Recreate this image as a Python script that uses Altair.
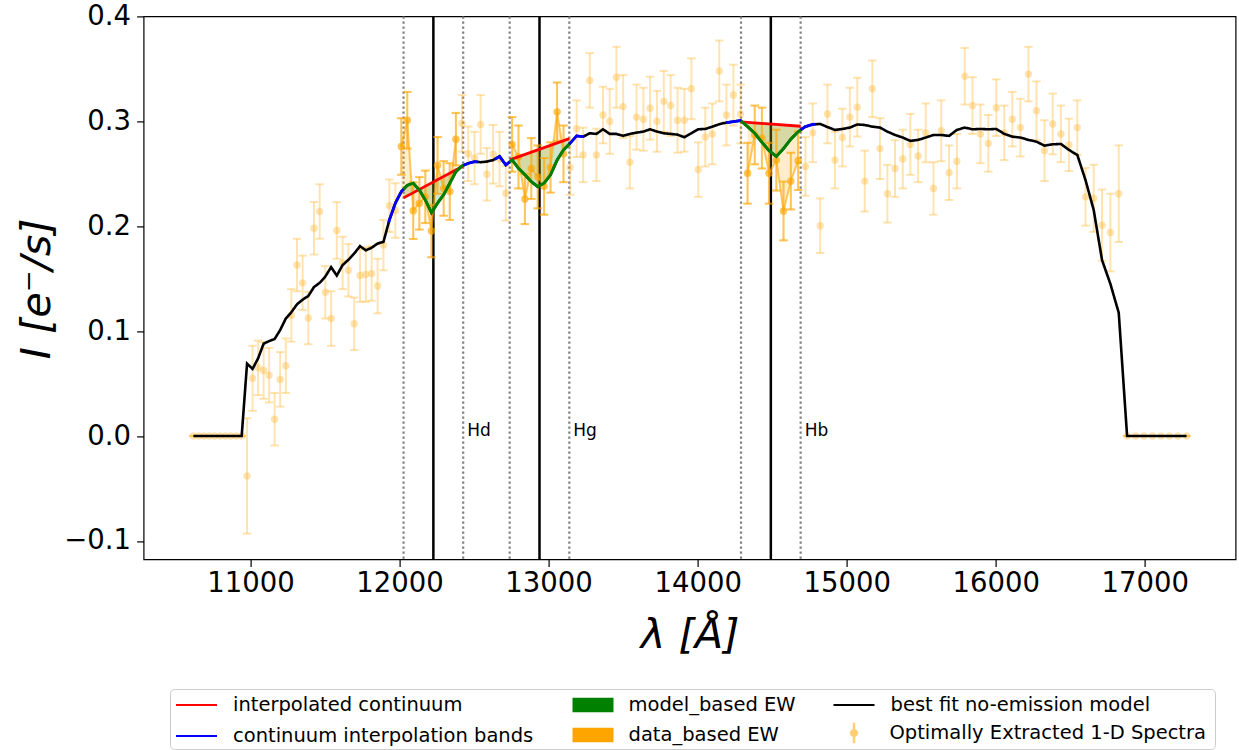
import altair as alt
import numpy as np
import pandas as pd

# ---------------- values ----------------
LAM = [10617, 10653, 10688, 10724, 10760, 10796, 10832, 10868, 10904, 10941,
       10977, 11014, 11051, 11088, 11125, 11162, 11199, 11237, 11274, 11312,
       11350, 11388, 11426, 11464, 11502, 11541, 11579, 11618, 11657, 11696,
       11735, 11774, 11813, 11853, 11892, 11932, 11972, 12012, 12052, 12092,
       12133, 12173, 12214, 12255, 12296, 12337, 12378, 12419, 12461, 12503,
       12544, 12586, 12628, 12671, 12713, 12755, 12798, 12841, 12884, 12927,
       12970, 13013, 13057, 13100, 13144, 13188, 13232, 13276, 13321, 13365,
       13410, 13455, 13500, 13545, 13590, 13636, 13681, 13727, 13773, 13819,
       13865, 13911, 13958, 14004, 14051, 14098, 14145, 14193, 14240, 14288,
       14335, 14383, 14431, 14479, 14528, 14576, 14625, 14674, 14723, 14772,
       14822, 14871, 14921, 14971, 15021, 15071, 15121, 15172, 15223, 15273,
       15324, 15376, 15427, 15479, 15530, 15582, 15634, 15687, 15739, 15792,
       15844, 15897, 15950, 16004, 16057, 16111, 16165, 16219, 16273, 16327,
       16382, 16437, 16491, 16547, 16602, 16657, 16713, 16769, 16825, 16881,
       16938, 16994, 17051, 17108, 17165, 17222, 17280]

FLUX = [0, 0, 0, 0, 0, 0, 0, 0, 0, 0,
        -0.038, 0.055, 0.065, 0.0625, 0.058, 0.016, 0.054, 0.067, 0.115, 0.163,
        0.146, 0.1125, 0.198, 0.214, 0.137, 0.112, 0.196, 0.165, 0.158, 0.107,
        0.153, 0.154, 0.155, 0.143, 0.182, 0.2195, 0.215, 0.276, 0.301, 0.2148,
        0.2218, 0.228, 0.1954, 0.258, 0.236, 0.233, 0.283, 0.298, 0.269, 0.265,
        0.297, 0.2495, 0.2686, 0.264, 0.2314, 0.278, 0.266, 0.226, 0.255, 0.247,
        0.238, 0.256, 0.309, 0.269, 0.256, 0.293, 0.268, 0.339, 0.268, 0.306,
        0.300, 0.342, 0.314, 0.261, 0.304, 0.302, 0.3125, 0.300, 0.319, 0.315,
        0.301, 0.301, 0.331, 0.254, 0.285, 0.288, 0.348, 0.306, 0.325, 0.307,
        0.2505, 0.287, 0.284, 0.2505, 0.263, 0.2145, 0.243, 0.2625, 0.257, 0.289,
        0.2005, 0.307, 0.263, 0.2845, 0.304, 0.3135, 0.243, 0.331, 0.274, 0.231,
        0.255, 0.264, 0.278, 0.267, 0.289, 0.236, 0.291, 0.251, 0.262, 0.343,
        0.315, 0.288, 0.279, 0.313, 0.289, 0.302, 0.294, 0.345, 0.310, 0.272,
        0.2975, 0.288, 0.2775, 0.294, 0.228, 0.2266, 0.201, 0.194, 0.231, 0,
        0, 0, 0, 0, 0, 0, 0]

ERR = [0, 0, 0, 0, 0, 0, 0, 0, 0, 0,
       0.055, 0.031, 0.026, 0.027, 0.026, 0.025, 0.026, 0.026, 0.025, 0.025,
       0.026, 0.025, 0.025, 0.026, 0.025, 0.026, 0.027, 0.025, 0.025, 0.025,
       0.025, 0.026, 0.026, 0.026, 0.024, 0.025, 0.026, 0.027, 0.027, 0.027,
       0.025, 0.025, 0.025, 0.027, 0.026, 0.027, 0.025, 0.027, 0.026, 0.025,
       0.028, 0.025, 0.028, 0.026, 0.026, 0.026, 0.030, 0.024, 0.029, 0.030,
       0.027, 0.024, 0.028, 0.027, 0.026, 0.027, 0.026, 0.026, 0.025, 0.027,
       0.031, 0.029, 0.030, 0.025, 0.031, 0.030, 0.030, 0.029, 0.029, 0.029,
       0.031, 0.030, 0.029, 0.026, 0.028, 0.029, 0.029, 0.029, 0.029, 0.028,
       0.029, 0.028, 0.029, 0.029, 0.029, 0.028, 0.027, 0.028, 0.028, 0.028,
       0.026, 0.028, 0.027, 0.0275, 0.028, 0.028, 0.029, 0.027, 0.029, 0.0275,
       0.027, 0.028, 0.029, 0.025, 0.028, 0.025, 0.029, 0.026, 0.026, 0.027,
       0.027, 0.028, 0.027, 0.027, 0.026, 0.026, 0.0275, 0.026, 0.028, 0.029,
       0.029, 0.027, 0.025, 0.026, 0.0275, 0.032, 0.034, 0.037, 0.046, 0,
       0, 0, 0, 0, 0, 0, 0]

MODEL = [0, 0, 0, 0, 0, 0, 0, 0, 0, 0,
         0.069, 0.064, 0.074, 0.088, 0.0905, 0.0925, 0.101, 0.112, 0.118, 0.1255,
         0.130, 0.1335, 0.142, 0.146, 0.152, 0.161, 0.153, 0.163, 0.168, 0.174,
         0.181, 0.177, 0.1795, 0.1835, 0.185, 0.206, 0.222, 0.233, 0.239, 0.241,
         0.2345, 0.225, 0.213, 0.222, 0.230, 0.241, 0.252, 0.2574, 0.260, 0.2616,
         0.261, 0.2616, 0.263, 0.2665, 0.2584, 0.2632, 0.2552, 0.249, 0.2425, 0.2377,
         0.241, 0.249, 0.263, 0.2727, 0.279, 0.2861, 0.2854, 0.2886, 0.288, 0.2924,
         0.288, 0.288, 0.2861, 0.288, 0.2892, 0.2902, 0.2924, 0.2902, 0.2886, 0.288,
         0.2873, 0.2848, 0.2886, 0.2924, 0.2927, 0.2949, 0.2972, 0.2988, 0.2997, 0.3007,
         0.2949, 0.2886, 0.280, 0.272, 0.2665, 0.274, 0.283, 0.290, 0.295, 0.297,
         0.2975, 0.2945, 0.2918, 0.2927, 0.294, 0.297, 0.2965, 0.2949, 0.294, 0.2902,
         0.287, 0.2845, 0.2813, 0.2823, 0.2845, 0.287, 0.287, 0.2861, 0.2918, 0.294,
         0.2924, 0.2927, 0.2924, 0.2927, 0.288, 0.2854, 0.2845, 0.2823, 0.2806, 0.2768,
         0.2781, 0.2784, 0.2727, 0.268, 0.244, 0.2155, 0.1677, 0.145, 0.1175, 0,
         0, 0, 0, 0, 0, 0, 0]

LINE_NAMES = ["Hd", "Hg", "Hb"]
LINE_CENTERS = [12227, 12939, 14491]
HALF_WINDOW = 200
BAND_WIDTH = 100
CONT_LEFT = [0.2270, 0.2633, 0.2995]
CONT_RIGHT = [0.2575, 0.2835, 0.2953]
DATA_WIN_FIRST = [12012, 12755, 14335]
DATA_WIN_LAST = [12378, 13100, 14674]

LEG_LINES = ["interpolated continuum", "continuum interpolation bands"]
LEG_LINE_COLORS = ["#ff0000", "#0000ff"]
LEG_FILLS = ["model_based EW", "data_based EW"]
LEG_FILL_COLORS = ["#008000", "#ffa500"]
LEG_MODEL = "best fit no-emission model"
LEG_SPEC = "Optimally Extracted 1-D Spectra"

X_DOMAIN = [10283, 17609]
Y_DOMAIN = [-0.1176, 0.4]
X_TICKS = [11000, 12000, 13000, 14000, 15000, 16000, 17000]
Y_TICKS = [-0.1, 0.0, 0.1, 0.2, 0.3, 0.4]

ORANGE = "#ffa500"
GREEN = "#008000"

# ---------------- tables ----------------
lam = np.array(LAM, dtype=float)
flux = np.array(FLUX, dtype=float)
err = np.array(ERR, dtype=float)
model = np.array(MODEL, dtype=float)

spec = pd.DataFrame({"lam": lam, "flux": flux, "lo": flux - err, "hi": flux + err,
                     "series": LEG_SPEC})
caps = pd.concat([pd.DataFrame({"lam": lam, "yc": flux - err}),
                  pd.DataFrame({"lam": lam, "yc": flux + err})])
mdl = pd.DataFrame({"lam": lam, "model": model, "series": LEG_MODEL})
empty = spec.iloc[:0]


def piece(a, b):
    """part of the drawn model polyline between wavelengths a and b"""
    m = (lam > a) & (lam < b)
    xs = np.concatenate([[a], lam[m], [b]])
    ys = np.concatenate([[np.interp(a, lam, model)], model[m], [np.interp(b, lam, model)]])
    return xs, ys


def cont(k, x):
    a = LINE_CENTERS[k] - HALF_WINDOW
    b = LINE_CENTERS[k] + HALF_WINDOW
    return CONT_LEFT[k] + (CONT_RIGHT[k] - CONT_LEFT[k]) * (np.asarray(x, dtype=float) - a) / (b - a)


blue_l, green_l, red_l, win_l = [], [], [], []
for k, c in enumerate(LINE_CENTERS):
    for j, (a, b) in enumerate([(c - HALF_WINDOW - BAND_WIDTH, c - HALF_WINDOW),
                                (c + HALF_WINDOW, c + HALF_WINDOW + BAND_WIDTH)]):
        xs, ys = piece(a, b)
        blue_l.append(pd.DataFrame({"lam": xs, "model": ys, "seg": f"b{k}{j}",
                                    "series": LEG_LINES[1]}))
    xs, ys = piece(c - HALF_WINDOW, c + HALF_WINDOW)
    green_l.append(pd.DataFrame({"lam": xs, "model": ys, "cont": cont(k, xs), "seg": f"g{k}"}))
    red_l.append(pd.DataFrame({"lam": [c - HALF_WINDOW, c + HALF_WINDOW],
                               "cont": [CONT_LEFT[k], CONT_RIGHT[k]], "seg": f"r{k}",
                               "series": LEG_LINES[0]}))
    m = (lam >= DATA_WIN_FIRST[k]) & (lam <= DATA_WIN_LAST[k])
    win_l.append(pd.DataFrame({"lam": lam[m], "flux": flux[m], "lo": flux[m] - err[m],
                               "hi": flux[m] + err[m], "cont": cont(k, lam[m]), "seg": f"d{k}"}))

blue_df = pd.concat(blue_l)
green_df = pd.concat(green_l)
red_df = pd.concat(red_l)
win_df = pd.concat(win_l)
win_caps = pd.concat([pd.DataFrame({"lam": win_df["lam"], "yc": win_df["lo"]}),
                      pd.DataFrame({"lam": win_df["lam"], "yc": win_df["hi"]})])

edges = pd.DataFrame({"lam": [c + s * HALF_WINDOW for c in LINE_CENTERS for s in (-1, 1)]})
centers = pd.DataFrame({"lam": LINE_CENTERS})
labels = pd.DataFrame({"lam": [c + HALF_WINDOW for c in LINE_CENTERS],
                       "y": [0.0] * len(LINE_CENTERS), "name": LINE_NAMES})

# ---------------- encodings ----------------
XS = alt.Scale(domain=X_DOMAIN, nice=False, zero=False)
YS = alt.Scale(domain=Y_DOMAIN, nice=False, zero=False)
XT = "λ [Å]"
YT = "I [e⁻/s]"
XAX = alt.Axis(values=X_TICKS, format="d", labelPadding=3, titleY=88,
               titleBaseline="alphabetic")
YAX = alt.Axis(values=Y_TICKS, format=".1f", labelPadding=6, titleAngle=270, titleX=-94,
               titleY=272, titleBaseline="alphabetic", titleAlign="center")


def X(f="lam"):
    return alt.X(f"{f}:Q", scale=XS, axis=XAX, title=XT)


def Y(f):
    return alt.Y(f"{f}:Q", scale=YS, axis=YAX, title=YT)


RECT = "M-1,-0.35L1,-0.35L1,0.35L-1,0.35Z"
EBAR = ("M-0.06,-0.5L0.06,-0.5L0.06,-0.2L-0.06,-0.2Z"
        "M-0.06,0.2L0.06,0.2L0.06,0.5L-0.06,0.5Z"
        "M-0.2,0A0.2,0.2,0,1,1,0.2,0A0.2,0.2,0,1,1,-0.2,0Z")


def leg(x, y, **kw):
    base = dict(title=None, orient="none", legendX=x, legendY=y, labelFont="DejaVu Sans",
                labelFontSize=19.5, labelColor="black", labelLimit=1100, labelOffset=15,
                padding=6, rowPadding=-2.5, zindex=1)
    base.update(kw)
    return alt.Legend(**base)


# frame of the legend block (a blank gradient legend that only draws the rounded box)
L_BOX = alt.Legend(title=None, orient="none", legendX=26.4, legendY=672.6,
                   direction="horizontal", gradientLength=1033, gradientThickness=48,
                   gradientOpacity=0, gradientStrokeWidth=0, values=[], labelOpacity=0,
                   labelFontSize=1, labelOffset=0, padding=6, fillColor="white",
                   strokeColor="#cccccc", cornerRadius=4, zindex=0)
L_LINES = leg(25.4, 661.1, symbolType="stroke", symbolSize=1681, symbolStrokeWidth=2)
L_FILLS = leg(422.9, 662.1, symbolType=RECT, symbolSize=1681, symbolStrokeWidth=0,
              symbolOpacity=1)
L_MODEL = leg(682.9, 661.1, symbolType="stroke", symbolSize=1681, symbolStrokeWidth=2)
L_SPEC = leg(683.9, 690.1, symbolSize=1681, symbolStrokeWidth=0, symbolOpacity=0.55)

S_LINES = alt.Stroke("series:N", scale=alt.Scale(domain=LEG_LINES, range=LEG_LINE_COLORS),
                     legend=L_LINES)

# ---------------- layers ----------------
dotted = alt.Chart(edges).mark_rule(color="#808080", strokeWidth=2.2,
                                    strokeDash=[2.4, 2.6]).encode(x=X())
solid = alt.Chart(centers).mark_rule(color="black", strokeWidth=2.5).encode(x=X())

gfill = alt.Chart(green_df).mark_area(opacity=0.2, color=GREEN).encode(
    x=X(), y=Y("model"), y2=alt.Y2("cont:Q"), detail="seg:N")
ofill = alt.Chart(win_df).mark_area(opacity=0.2, color=ORANGE).encode(
    x=X(), y=Y("flux"), y2=alt.Y2("cont:Q"), detail="seg:N")

ebar = alt.Chart(spec).mark_rule(color=ORANGE, strokeWidth=2, opacity=0.3).encode(
    x=X(), y=Y("lo"), y2=alt.Y2("hi:Q"))
ecap = alt.Chart(caps).mark_tick(color=ORANGE, orient="horizontal", size=8.5, thickness=2,
                                 opacity=0.3).encode(x=X(), y=Y("yc"))
pts = alt.Chart(spec).mark_circle(size=55, opacity=0.3, color=ORANGE).encode(
    x=X(), y=Y("flux"))

mline = alt.Chart(mdl).mark_line(strokeWidth=2.6, color="black").encode(
    x=X(), y=Y("model"),
    strokeDash=alt.StrokeDash("series:N",
                              scale=alt.Scale(domain=[LEG_MODEL], range=[[1, 0]]),
                              legend=L_MODEL))

w_ebar = alt.Chart(win_df).mark_rule(color=ORANGE, strokeWidth=2, opacity=0.5).encode(
    x=X(), y=Y("lo"), y2=alt.Y2("hi:Q"))
w_cap = alt.Chart(win_caps).mark_tick(color=ORANGE, orient="horizontal", size=8.5,
                                      thickness=2, opacity=0.5).encode(x=X(), y=Y("yc"))
w_pts = alt.Chart(win_df).mark_circle(size=55, opacity=0.5, color=ORANGE).encode(
    x=X(), y=Y("flux"))
w_line = alt.Chart(win_df).mark_line(color=ORANGE, strokeWidth=2, opacity=0.6).encode(
    x=X(), y=Y("flux"), detail="seg:N")

blue = alt.Chart(blue_df).mark_line(strokeWidth=2.8).encode(
    x=X(), y=Y("model"), stroke=S_LINES, detail="seg:N")
red = alt.Chart(red_df).mark_line(strokeWidth=2.8).encode(
    x=X(), y=Y("cont"), stroke=S_LINES, detail="seg:N")
green = alt.Chart(green_df).mark_line(strokeWidth=3, color=GREEN).encode(
    x=X(), y=Y("model"), detail="seg:N")

text = alt.Chart(labels).mark_text(align="left", baseline="alphabetic", dx=4, fontSize=17,
                                   font="DejaVu Sans", color="black").encode(
    x=X(), y=Y("y"), text="name:N")

# legend-only layers (no rows: they only carry legend entries)
leg_fill = alt.Chart(empty).mark_point(filled=True, opacity=1).encode(
    x=X(), y=Y("flux"),
    fill=alt.Fill("series:N", scale=alt.Scale(domain=LEG_FILLS, range=LEG_FILL_COLORS),
                  legend=L_FILLS))
leg_spec = alt.Chart(empty).mark_point(filled=True, opacity=0.55, color=ORANGE).encode(
    x=X(), y=Y("flux"),
    shape=alt.Shape("series:N", scale=alt.Scale(domain=[LEG_SPEC], range=[EBAR]),
                    legend=L_SPEC))
leg_box = alt.Chart(empty).mark_point(opacity=0).encode(
    x=X(), y=Y("flux"),
    color=alt.Color("flux:Q", scale=alt.Scale(domain=[0, 1], range=["white", "white"]),
                    legend=L_BOX))

chart = alt.layer(
    dotted, solid, gfill, ofill, ebar, ecap, pts, mline,
    w_ebar, w_cap, w_pts, w_line, blue, red, green, text,
    leg_box, leg_fill, leg_spec
).properties(
    width=1092, height=543,
    autosize=alt.AutoSizeParams(type="none"),
    padding={"left": 143.6, "top": 16.4, "right": 3.4, "bottom": 190.6},
    background="white",
).configure_view(
    stroke="black", strokeWidth=1.2
).configure_axis(
    domain=False, grid=False, labelFont="DejaVu Sans", labelFontSize=27.5, labelColor="black",
    tickColor="black", tickSize=7, tickWidth=1.2, titleFont="DejaVu Sans", titleFontSize=41.5,
    titleFontStyle="italic", titleFontWeight="normal", titleColor="black"
)

chart.save("out.html", embed_options={"renderer": "svg", "actions": False})
